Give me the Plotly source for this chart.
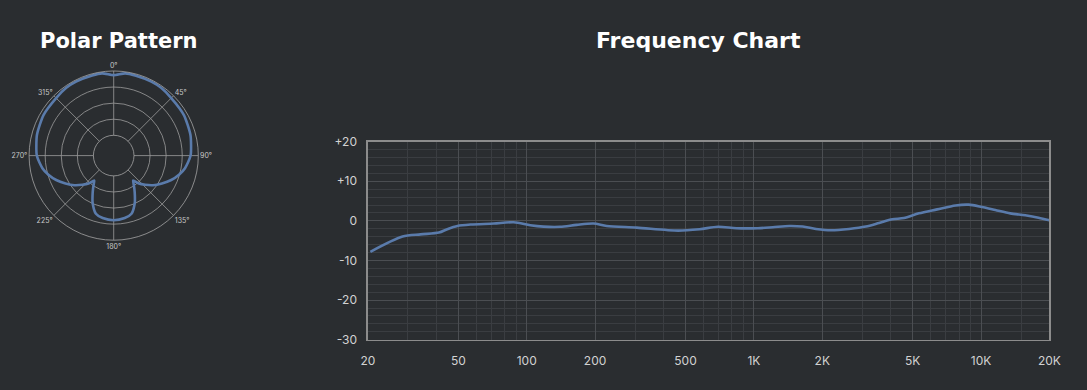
import plotly.graph_objects as go

# ---------------- data ----------------
# Polar pattern (sensitivity relative to on-axis, dB), symmetric left/right
polar_angles_right = [0, 8, 15, 27, 35, 45, 60, 75, 90, 100, 106, 113, 120, 127, 133, 138, 142, 145, 148, 152, 156, 163, 170, 180]
polar_levels_right = [-1.3, -0.5, -0.5, -0.5, -0.6, -1.0, -1.1, -1.6, -2.4, -3.8, -5.1, -6.9, -9.0, -11.0, -13.0, -14.6, -16.5, -15.5, -14.2, -12.3, -10.2, -7.4, -6.6, -6.2]

polar_tick_angles = [0, 45, 90, 135, 180, 225, 270, 315]
polar_tick_labels = ["0°", "45°", "90°", "135°", "180°", "225°", "270°", "315°"]
polar_rings = [-20, -15, -10, -5, 0]

# Frequency response
freq_hz = [20.5, 28.4, 34.1, 41.1, 44.7, 49.5, 56.6, 71.6, 87.7, 103.7, 118.6, 140.4, 166, 196.7, 225, 305, 464,
           577, 695, 837, 1041, 1211, 1433, 1640, 1877, 2183, 2625, 3110, 3557, 4068, 4577, 5327, 6406, 7716,
           8825, 10093, 11557, 13445, 15646, 17900, 20000]
freq_db = [-7.8, -3.95, -3.4, -2.95, -2.1, -1.3, -0.93, -0.68, -0.35, -1.1, -1.45, -1.5, -1.0, -0.68, -1.28, -1.7, -2.45,
           -2.1, -1.5, -1.85, -1.85, -1.6, -1.28, -1.43, -2.03, -2.36, -2.03, -1.43, -0.53, 0.4, 0.73, 1.9, 2.9, 3.9,
           4.1, 3.5, 2.75, 1.9, 1.4, 0.8, 0.15]

x_tick_vals = [20, 50, 100, 200, 500, 1000, 2000, 5000, 10000, 20000]
x_tick_text = ["20", "50", "100", "200", "500", "1K", "2K", "5K", "10K", "20K"]
x_minor_vals = [30, 40, 60, 70, 80, 90, 300, 400, 600, 700, 800, 900,
                3000, 4000, 6000, 7000, 8000, 9000, 15000]
y_tick_vals = [-30, -20, -10, 0, 10, 20]
y_tick_text = ["-30", "-20", "-10", "0", "+10", "+20"]

# ---------------- styling ----------------
BG = "#2a2d30"
LINE = "#5a7bab"
TXT = "#d2d2d2"
W, H = 1087, 390

# full closed polar curve (mirror right side to the left)
theta = polar_angles_right + [360 - a for a in reversed(polar_angles_right[:-1])]
r = polar_levels_right + list(reversed(polar_levels_right[:-1]))

fig = go.Figure()

fig.add_trace(go.Scatterpolar(
    theta=theta, r=r, mode="lines",
    line=dict(color=LINE, width=2.6, shape="spline", smoothing=0.6),
    hoverinfo="skip", showlegend=False,
))

fig.add_trace(go.Scatter(
    x=freq_hz, y=freq_db, mode="lines",
    line=dict(color=LINE, width=2.6, shape="spline", smoothing=0.8),
    hoverinfo="skip", showlegend=False,
))

# frame / placement (pixels)
PX_L, PX_R, PX_T, PX_B = 367, 1060, 139, 345
cx, cy, R = 108.5, 153.5, 88.0
TITLE_FONT = "DejaVu Sans, sans-serif"
fig.update_layout(
    width=W, height=H,
    paper_bgcolor=BG, plot_bgcolor=BG,
    margin=dict(l=0, r=0, t=0, b=0),
    showlegend=False,
    font=dict(family="Inter, sans-serif", color=TXT),
    polar=dict(
        domain=dict(x=[(cx - R) / W, (cx + R) / W], y=[(H - cy - R) / H, (H - cy + R) / H]),
        bgcolor=BG,
        hole=0.24,
        radialaxis=dict(range=[-20, 0], tickvals=polar_rings, showticklabels=False, ticks="",
                        showline=False, gridcolor="#9d9d9d", gridwidth=0.8),
        angularaxis=dict(rotation=90, direction="clockwise", tickmode="array",
                         tickvals=polar_tick_angles, ticktext=polar_tick_labels, ticks="",
                         tickfont=dict(size=7, color="#c8c8c8"),
                         showline=True, linecolor="#a4a4a4", linewidth=0.8,
                         gridcolor="#9d9d9d", gridwidth=0.8),
    ),
    xaxis=dict(
        type="log", range=[1.30103, 4.30103],
        domain=[PX_L / W, PX_R / W],
        tickmode="array", tickvals=x_tick_vals, ticktext=x_tick_text,
        tickfont=dict(size=12, color=TXT), ticks="", ticklabelstandoff=9,
        showgrid=True, gridcolor="#4b4e52", gridwidth=1,
        minor=dict(tickmode="array", tickvals=x_minor_vals, showgrid=True, gridcolor="#3a3d41", gridwidth=1, ticks=""),
        showline=True, linecolor="#8c8c8c", linewidth=1.5, mirror=True,
        zeroline=False, fixedrange=True,
    ),
    yaxis=dict(
        range=[-30, 20],
        domain=[(H - PX_B) / H, (H - PX_T) / H],
        tickmode="array", tickvals=y_tick_vals, ticktext=y_tick_text,
        tickfont=dict(size=12, color=TXT), ticks="", ticklabelstandoff=7,
        showgrid=True, gridcolor="#4b4e52", gridwidth=1,
        minor=dict(dtick=2, showgrid=True, gridcolor="#3a3d41", gridwidth=1, ticks=""),
        showline=True, linecolor="#8c8c8c", linewidth=1.5, mirror=True,
        zeroline=False, fixedrange=True,
    ),
    annotations=[
        dict(text="<b>Polar Pattern</b>", x=113 / W, y=(H - 34) / H, xref="paper", yref="paper",
             xanchor="center", yanchor="middle", showarrow=False,
             font=dict(family=TITLE_FONT, size=21, color="#ffffff")),
        dict(text="<b>Frequency Chart</b>", x=703 / W, y=(H - 34) / H, xref="paper", yref="paper",
             xanchor="center", yanchor="middle", showarrow=False,
             font=dict(family=TITLE_FONT, size=22, color="#ffffff")),
    ],
)

fig.write_html(
    "out.html",
    config={"displayModeBar": False, "staticPlot": True},
    post_script="document.body.style.margin='0';document.body.style.padding='0';"
                "document.body.style.background='#2a2d30';document.body.style.overflow='hidden';",
)
